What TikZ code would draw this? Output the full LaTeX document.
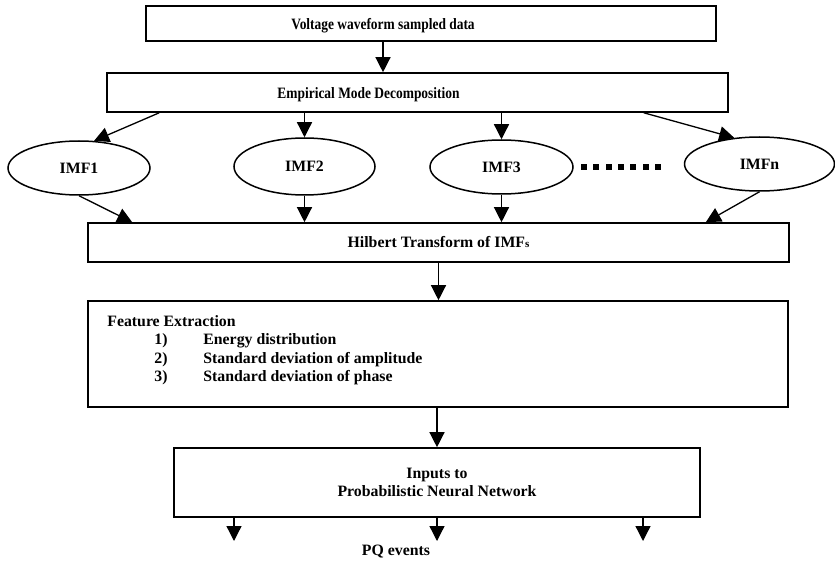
\documentclass[tikz,border=0pt]{standalone}
\usepackage{fontspec}
\setmainfont{Liberation Serif}
\usepackage{tikz}
\usetikzlibrary{shapes.geometric, arrows.meta, positioning, calc}
\tikzstyle{block}  = [rectangle, draw, line width=1.6pt, inner sep=0pt]
\tikzstyle{arrow}  = [-{Triangle[length=15pt, width=15pt]}, line width=1.3pt]

\begin{document}
\begin{tikzpicture}[
  x=1pt, y=-1pt,
  every node/.style={font=\fontsize{15.8}{18.5}\selectfont\bfseries},
  imf/.style={ellipse, draw, line width=1.5pt, minimum height=54pt, inner sep=0pt},
  narrow/.style={inner sep=0pt}
]
  \useasboundingbox (0,0) rectangle (835,564);

  % Boxes
  \node[block, minimum width=570pt, minimum height=35pt] (volt) at (431,23.5) {};
  \node[block, minimum width=621pt, minimum height=39pt] (emd) at (417.5,92.5) {};
  \node[block, minimum width=701pt, minimum height=39pt] (hil) at (438.5,242.5) {Hilbert Transform of IMF{\fontsize{11}{11}\selectfont s}};
  \node[block, minimum width=700pt, minimum height=106pt] (feat) at (438,354) {};
  \node[block, minimum width=526pt, minimum height=69pt, align=center] (inp) at (437,482.5) {Inputs to\\Probabilistic Neural Network};

  \node[narrow] (volttext) at ([xshift=-48pt,yshift=-2pt]volt.center) {\scalebox{0.85}[1]{Voltage waveform sampled data}};
  \node[narrow] (emdtext) at ([xshift=-49pt,yshift=-2pt]emd.center) {\scalebox{0.85}[1]{Empirical Mode Decomposition}};
  \node[narrow, anchor=north west, align=left] (feattext) at ([xshift=20pt,yshift=-15pt]feat.north west)
    {Feature Extraction\\
     \hspace*{47pt}\makebox[49pt][l]{1)}Energy distribution\\
     \hspace*{47pt}\makebox[49pt][l]{2)}Standard deviation of amplitude\\
     \hspace*{47pt}\makebox[49pt][l]{3)}Standard deviation of phase};

  % IMFs
  \node[imf, minimum width=142pt] (imf1) at (79,168) {IMF1};
  \node[imf, minimum width=141pt, minimum height=57pt] (imf2) at (304.5,166.5) {IMF2};
  \node[imf, minimum width=143pt] (imf3) at (501.5,167) {IMF3};
  \node[imf, minimum width=150pt] (imfn) at (759.5,164) {IMFn};
  \foreach \k in {0,...,6}
    \fill ({581+12.3*\k},164) rectangle ++(6,6);

  \node (pq) at (396,552) {PQ events};
  \coordinate (out1) at (234,541);
  \coordinate (out2) at (437,541);
  \coordinate (out3) at (643,541);

  % Arrows
  \draw[arrow] (volttext.center |- volt.south) -- (volttext.center |- emd.north);
  \draw[arrow] ([xshift=53pt]emd.south west) -- (imf1.61);
  \draw[arrow] (emd.south -| imf2.north) -- (imf2.north);
  \draw[arrow] (emd.south -| imf3.north) -- (imf3.north);
  \draw[arrow] ([xshift=-85pt]emd.south east) -- (imfn.134);

  \draw[arrow] (imf1.south) -- ([xshift=45pt]hil.north west);
  \draw[arrow] (imf2.south) -- (imf2.south |- hil.north);
  \draw[arrow] (imf3.south) -- (imf3.south |- hil.north);
  \draw[arrow] (imfn.south) -- ([xshift=-84pt]hil.north east);

  \draw[arrow] (hil.south) -- (hil.south |- feat.north);
  \draw[arrow] (inp.north |- feat.south) -- (inp.north);

  \draw[arrow] (inp.south -| out1) -- (out1);
  \draw[arrow] (inp.south -| out2) -- (out2);
  \draw[arrow] (inp.south -| out3) -- (out3);

\end{tikzpicture}
\end{document}
